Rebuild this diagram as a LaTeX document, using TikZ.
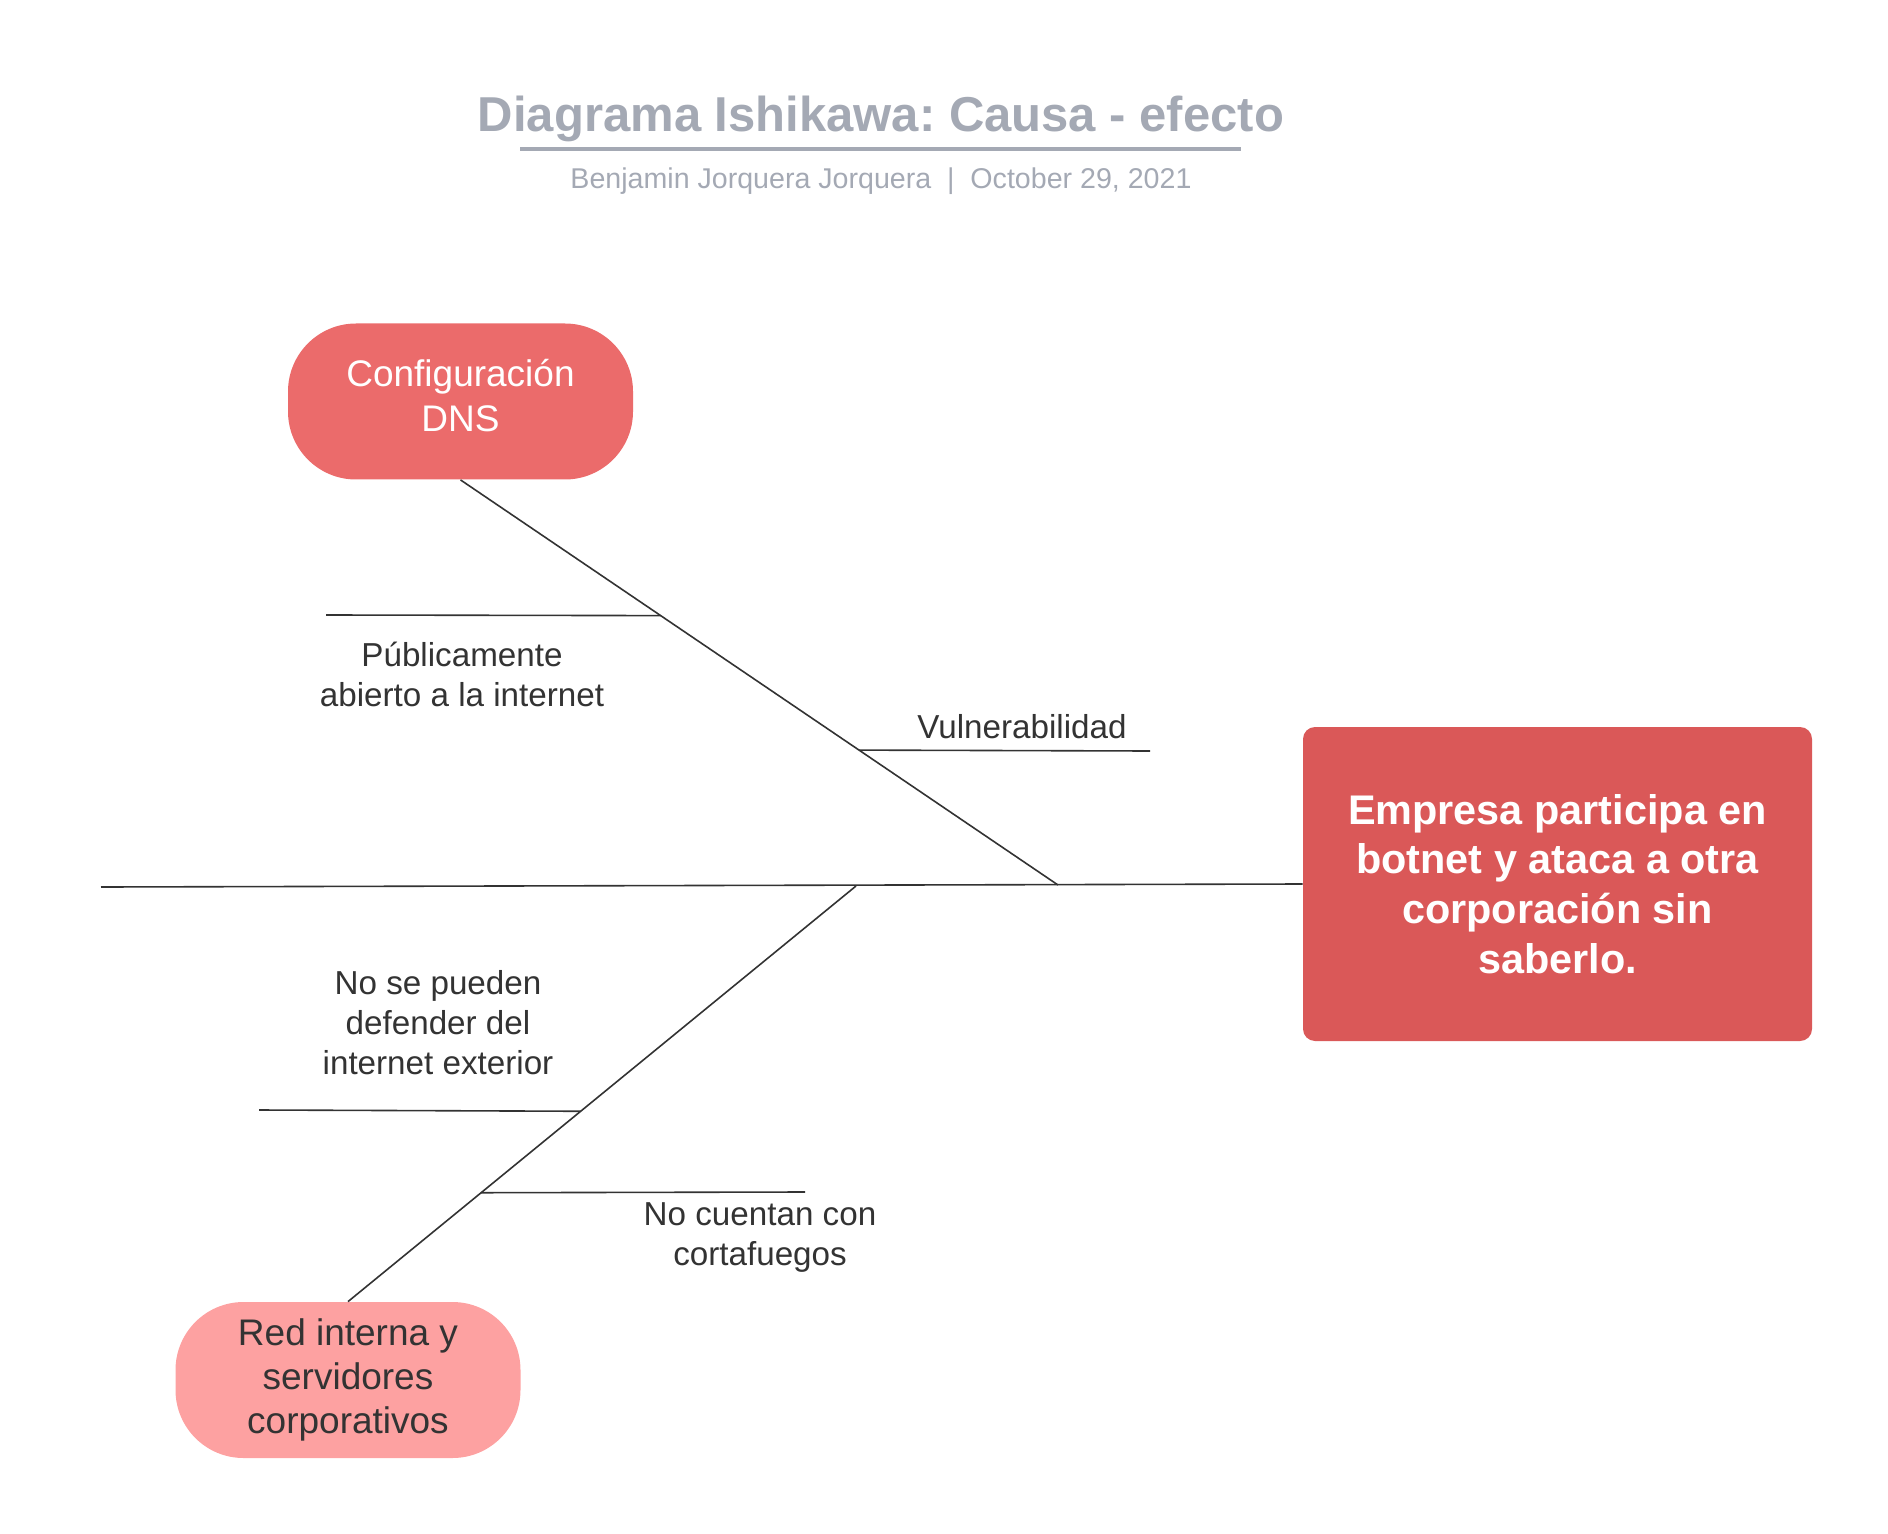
\documentclass[tikz,border=0pt]{standalone}
\usepackage{fontspec}
\setmainfont{Liberation Sans}
\usetikzlibrary{calc}
\definecolor{titlegray}{HTML}{A4A9B4}
\definecolor{darktext}{HTML}{333333}
\definecolor{dnsred}{HTML}{EB6B6B}
\definecolor{effectred}{HTML}{DA5858}
\definecolor{netpink}{HTML}{FDA1A1}
\frenchspacing
\begin{document}
\begin{tikzpicture}[x=0.5pt,y=-0.5pt]
            \tikzstyle{cause}=[rounded corners=34pt, minimum width=172.5pt, minimum height=78pt, inner sep=0pt, align=center, font=\fontsize{18.5}{22.2}\selectfont]
            \tikzstyle{note}=[inner sep=0pt, align=center, text=darktext, font=\fontsize{16.6}{20}\selectfont]
            \tikzstyle{bone}=[draw=darktext, line width=0.8pt]

            \useasboundingbox (0,0) rectangle (1888,1534);

            % titulo
            \node (title) at (881,119) {\fontsize{24.5}{29}\selectfont\bfseries\color{titlegray}Diagrama Ishikawa: Causa - efecto};
            \node (sub) at (881,181) {\fontsize{14.3}{17}\selectfont\color{titlegray}Benjamin Jorquera Jorquera\ \ |\ \ October 29, 2021};
            \coordinate (ul1) at (520,149);
            \coordinate (ul2) at (1241,149);
            \draw[titlegray, line width=2pt] (ul1) -- (ul2);

            % causas y efecto
            \node[cause, fill=dnsred, text=white, text depth=6pt] (dns) at (460.5,401.5) {Configuración\\DNS};
            \node[cause, fill=netpink, text=darktext] (net) at (348,1380) {Red interna y\\servidores\\corporativos};
            \node[fill=effectred, text=white, rounded corners=6pt, minimum width=254.5pt, minimum height=157pt, inner sep=0pt, align=center, font=\fontsize{20.7}{24.9}\selectfont\bfseries] (effect) at (1557.5,884) {Empresa participa en\\botnet y ataca a otra\\corporación sin\\saberlo.};

            % espina
            \coordinate (tail) at (101,887);
            \coordinate (head1) at (1058,885);
            \coordinate (head2) at (856,886);
            \draw[bone] (tail) -- (effect.west);
            \draw[bone] (dns.south) -- (head1);
            \draw[bone] (head2) -- (net.north);

            % sub causas
            \coordinate (pub) at ($(dns.south)!0.335!(head1)$);
            \coordinate (pubend) at (326,615);
            \coordinate (vul) at ($(dns.south)!0.667!(head1)$);
            \coordinate (vulend) at (1150,751);
            \coordinate (def) at ($(head2)!0.542!(net.north)$);
            \coordinate (defend) at (259,1110);
            \coordinate (fw) at ($(head2)!0.738!(net.north)$);
            \coordinate (fwend) at (805,1192);
            \draw[bone] (pub) -- (pubend);
            \draw[bone] (vul) -- (vulend);
            \draw[bone] (def) -- (defend);
            \draw[bone] (fw) -- (fwend);

            \node[note] (pubtxt) at (462,674) {Públicamente\\abierto a la internet};
            \node[note] (vultxt) at (1022,727) {Vulnerabilidad};
            \node[note] (deftxt) at (438,1023) {No se pueden\\defender del\\internet exterior};
            \node[note] (fwtxt) at (760,1238) {No cuentan con\\cortafuegos};
\end{tikzpicture}
\end{document}
